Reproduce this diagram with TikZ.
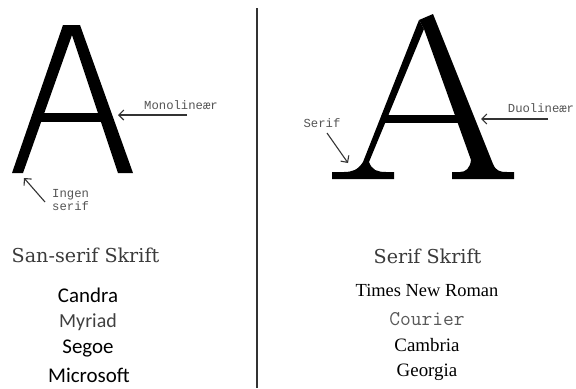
\documentclass[tikz,border=0pt]{standalone}
\usepackage{fontspec}
\usetikzlibrary{arrows.meta}
\newfontfamily\lblfont{Liberation Mono}
\newfontfamily\ttlfont{DejaVu Serif}
\newfontfamily\carfont{Carlito}
\newfontfamily\tnrfont{Liberation Serif}
\definecolor{lbl}{HTML}{555555}
\definecolor{arr}{HTML}{333333}
\definecolor{ttl}{HTML}{3A3A3A}
\tikzset{
  lbltext/.style={font=\lblfont\fontsize{12.3}{14}\selectfont, text=lbl, inner sep=0pt},
  pointer/.style={draw=arr, line width=1.1bp, -{Straight Barb[length=5bp,width=10bp]}},
  ttltext/.style={font=\ttlfont\fontsize{19.2}{22}\selectfont, text=ttl, inner sep=0pt},
  sanslist/.style={font=\carfont\fontsize{21}{24}\selectfont, text=black, inner sep=0pt},
  seriflist/.style={font=\tnrfont\fontsize{19}{22}\selectfont, text=black, inner sep=0pt},
  glyph/.style={fill=black, draw=none}
}
\begin{document}
\begin{tikzpicture}[x=1bp, y=-1bp]
\useasboundingbox (0,0) rectangle (576,388);
% divider
\draw[draw=arr, line width=1.8bp] (257,8) -- (257,388);
% sans A
\fill[glyph] (12,173) -- (23,173) -- (72,35) -- (72,25) -- (63,25) -- cycle;
\fill[glyph] (72,25) -- (80,25) -- (133,173) -- (118,173) -- (72,35) -- cycle;
\fill[glyph] (38,113) rectangle (105,122);
% serif A
\fill[glyph] (433,14) -- (493,164) .. controls (496,171) and (500,172) .. (507,172) -- (514,172) -- (514,179) -- (452,179) -- (452,172) -- (460,172) .. controls (466,172) and (470,168) .. (471,160) -- (424,29) -- (419,20) -- cycle;
\fill[glyph] (419,20) -- (424,29) -- (369,162) .. controls (372,170) and (377,172) .. (386,172) -- (394,172) -- (394,179) -- (332,179) -- (332,172) -- (344,172) .. controls (352,172) and (358,170) .. (363,162) -- cycle;
\fill[glyph] (384,115) rectangle (462,123);
% labels
\node[lbltext] (mono) at (181,105) {Monolineær};
\coordinate (monoS) at (187,115);
\coordinate (monoE) at (118,115);
\draw[pointer] (monoS) -- (monoE);
\node[lbltext, anchor=west, align=left] (ingen) at (52,200) {Ingen\\serif};
\coordinate (ingenS) at (45,202);
\coordinate (ingenE) at (24,178);
\draw[pointer] (ingenS) -- (ingenE);
\node[lbltext] (serif) at (322,123) {Serif};
\coordinate (serifS) at (327,133);
\coordinate (serifE) at (348,163);
\draw[pointer] (serifS) -- (serifE);
\node[lbltext] (duo) at (541,108) {Duolineær};
\coordinate (duoS) at (548,119);
\coordinate (duoE) at (481,119);
\draw[pointer] (duoS) -- (duoE);
% titles
\node[ttltext] (tsans) at (85.5,255) {San-serif Skrift};
\node[ttltext] (tserif) at (427.5,256) {Serif Skrift};
% sans list
\node[sanslist] (candra) at (88,295) {Candra};
\node[sanslist, text=black!75, font=\carfont\fontsize{20}{24}\selectfont] (myriad) at (88,322) {Myriad};
\node[sanslist] (segoe) at (88,348) {Segoe};
\node[sanslist] (micro) at (89,375) {Microsoft};
% serif list
\node[seriflist, font=\tnrfont\fontsize{18.5}{22}\selectfont] (times) at (427,290) {Times New Roman};
\node[seriflist, font=\ttfamily\fontsize{21}{24}\selectfont, text=black!65] (courier) at (427,319) {Courier};
\node[seriflist] (cambria) at (427,345) {Cambria};
\node[seriflist] (georgia) at (427,372) {Georgia};
\end{tikzpicture}
\end{document}
